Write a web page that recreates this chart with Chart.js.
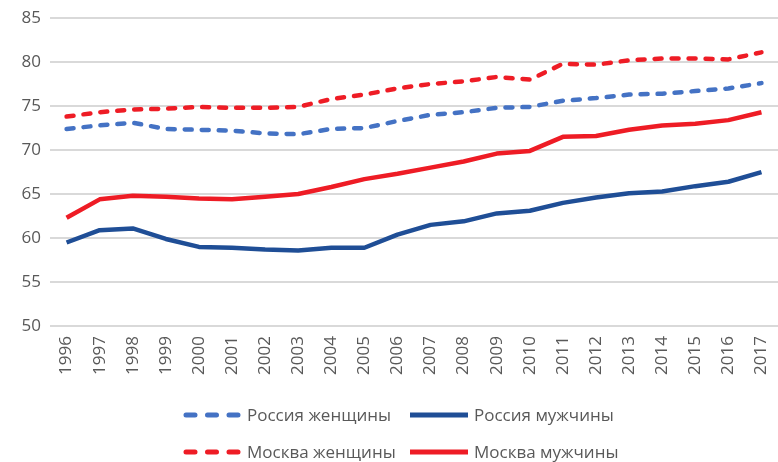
<!DOCTYPE html>
<html>
<head>
<meta charset="utf-8">
<script src="https://cdn.jsdelivr.net/npm/chart.js@4.4.0/dist/chart.umd.min.js"></script>
<style>
  body { margin: 0; background: #fff; }
  #wrap { position: relative; width: 778px; height: 462px; }
  #legend { position: absolute; left: 0; top: 0; width: 778px; height: 462px; pointer-events: none;
            font-family: "Open Sans", sans-serif; font-size: 17px; color: #595959; }
  .item { position: absolute; display: flex; align-items: center; white-space: nowrap; line-height: 20px; }
  .item svg { margin-right: 6px; }
</style>
</head>
<body>
<div id="wrap">
  <canvas id="myChart" width="778" height="462"></canvas>
  <div id="legend"></div>
</div>
<script>
const years = ['1996','1997','1998','1999','2000','2001','2002','2003','2004','2005','2006',
               '2007','2008','2009','2010','2011','2012','2013','2014','2015','2016','2017'];

const russiaWomen = [72.4, 72.8, 73.1, 72.4, 72.3, 72.2, 71.9, 71.8, 72.4, 72.5, 73.3,
                     74.0, 74.3, 74.8, 74.9, 75.6, 75.9, 76.3, 76.4, 76.7, 77.0, 77.6];
const russiaMen = [59.5, 60.9, 61.1, 59.9, 59.0, 58.9, 58.7, 58.6, 58.9, 58.9, 60.4,
                   61.5, 61.9, 62.8, 63.1, 64.0, 64.6, 65.1, 65.3, 65.9, 66.4, 67.5];
const moscowWomen = [73.8, 74.3, 74.6, 74.7, 74.9, 74.8, 74.8, 74.9, 75.8, 76.3, 77.0,
                     77.5, 77.8, 78.3, 78.0, 79.8, 79.7, 80.2, 80.4, 80.4, 80.3, 81.1];
const moscowMen = [62.3, 64.4, 64.8, 64.7, 64.5, 64.4, 64.7, 65.0, 65.8, 66.7, 67.3,
                   68.0, 68.7, 69.6, 69.9, 71.5, 71.6, 72.3, 72.8, 73.0, 73.4, 74.3];

const seriesNames = ['Россия женщины', 'Россия мужчины', 'Москва женщины', 'Москва мужчины'];
const seriesColors = ['#4472C4', '#1F4E96', '#EE1C25', '#EE1C25'];
const seriesDashed = [true, false, true, false];
const seriesData = [russiaWomen, russiaMen, moscowWomen, moscowMen];

const datasets = seriesData.map((d, i) => ({
    label: seriesNames[i],
    data: d,
    borderColor: seriesColors[i],
    backgroundColor: seriesColors[i],
    borderWidth: 4.5,
    borderDash: seriesDashed[i] ? [7, 10] : [],
    borderCapStyle: seriesDashed[i] ? 'round' : 'butt',
    borderJoinStyle: 'round',
    pointRadius: 0,
    tension: 0,
    fill: false
}));

const ctx = document.getElementById('myChart').getContext('2d');
const font = { family: '"Open Sans", sans-serif', size: 17 };

// no extra room for half labels at the edges, the padding below sets the plot area
function noEdgePadding(scale) {
    scale.paddingLeft = 0;
    scale.paddingRight = 0;
    scale.paddingTop = 0;
    scale.paddingBottom = 0;
}

const myChart = new Chart(ctx, {
    type: 'line',
    data: { labels: years, datasets: datasets },
    options: {
        responsive: false,
        animation: false,
        layout: { padding: { left: 12.6, right: 0, top: 18, bottom: 77 } },
        plugins: {
            legend: { display: false },
            tooltip: { enabled: false }
        },
        scales: {
            x: {
                offset: true,
                afterFit: noEdgePadding,
                grid: { display: false, drawTicks: false },
                border: { display: false },
                ticks: { color: '#595959', font: font, maxRotation: 90, minRotation: 90,
                         padding: 10, autoSkip: false }
            },
            y: {
                min: 50,
                max: 85,
                afterFit: noEdgePadding,
                grid: { color: '#d9d9d9', lineWidth: 2, drawTicks: false },
                border: { display: false },
                ticks: { stepSize: 5, color: '#595959', font: font, padding: 9 }
            }
        }
    }
});

// legend in two rows, two columns
const legendPos = [[183, 415], [410, 415], [183, 452], [410, 452]];
const legendEl = document.getElementById('legend');
seriesNames.forEach((name, i) => {
    const el = document.createElement('div');
    el.className = 'item';
    el.style.left = legendPos[i][0] + 'px';
    el.style.top = (legendPos[i][1] - 10) + 'px';
    el.style.height = '20px';
    const w = 58;
    const dash = seriesDashed[i] ? 'stroke-dasharray="9 12.5" stroke-linecap="round"' : '';
    el.innerHTML = '<svg width="' + w + '" height="10"><line x1="' + (seriesDashed[i] ? 3 : 0) +
        '" y1="5" x2="' + (seriesDashed[i] ? 55 : w) + '" y2="5" stroke="' + seriesColors[i] +
        '" stroke-width="5" ' + dash + '/></svg><span>' + name + '</span>';
    legendEl.appendChild(el);
});
</script>
</body>
</html>
